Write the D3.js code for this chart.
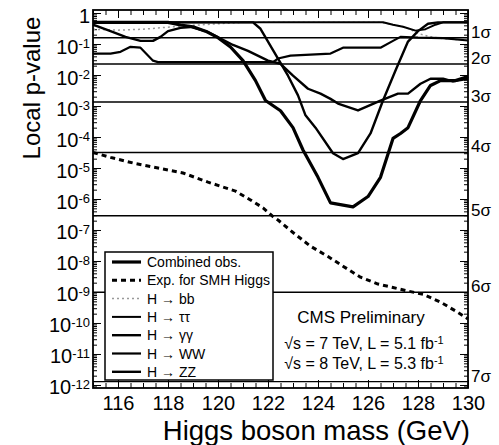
<!DOCTYPE html>
<meta charset="utf-8" />
<html>
<head>
<title>local p-value</title>
<script src="https://cdn.jsdelivr.net/npm/d3@7"></script>
<style>
body { margin: 0; background: #fff; }
text { font-family: "Liberation Sans", Arial, sans-serif; fill: #000; }
.axis path { display: none; }
.axis line { stroke: #000; stroke-width: 1; }
</style>
</head>
<body>
<div id="viz"></div>
<script>

// values: [mass GeV, local p-value]
var combined = [[115,0.5],[116,0.5],[117,0.5],[118,0.5],[118.5,0.41],[119,0.36],[119.5,0.26],[120,0.16],
  [120.5,0.08],[121,0.029],[121.5,6.6e-3],[121.9,1.5e-3],[122.5,7e-4],[123,2e-4],[123.4,3.8e-5],[124,5e-6],
  [124.5,7.5e-7],[125.4,5.6e-7],[126,1.2e-6],[126.5,5e-6],[127,9e-5],[127.3,1.3e-4],[127.6,2e-4],[128.1,1.5e-3],
  [128.5,4.6e-3],[128.9,6.6e-3],[129.5,6.6e-3],[130,8.9e-3]];
var expected = [[115,3.2e-5],[115.7,2.2e-5],[116.6,1.45e-5],[117.6,1e-5],[118.6,6.9e-6],[119.6,3.5e-6],
  [120.7,1.8e-6],[121.3,9.3e-7],[121.8,5.2e-7],[122.2,2.7e-7],[122.4,2.1e-7],[123,8.3e-8],[123.7,3e-8],
  [124.4,1.4e-8],[125,6.8e-9],[125.7,3e-9],[126.4,1.8e-9],[127,1.4e-9],[127.6,1.07e-9],[128.2,8.5e-10],
  [128.9,4.7e-10],[129.6,2.2e-10],[130,1.35e-10]];
var hbb = [[115,0.3],[116,0.28],[117,0.3],[118,0.35],[119,0.4],[120,0.45],[121,0.5],[126.5,0.5],[127,0.42],
  [127.5,0.35],[128,0.22],[128.5,0.17],[129,0.15],[129.5,0.14],[130,0.13]];
var htautau = [[115,0.5],[126.6,0.5],[127,0.42],[127.4,0.36],[127.9,0.27],[128.3,0.3],[128.7,0.42],[129,0.5],[130,0.5]];
var hgg = [[115,0.5],[121.4,0.5],[121.7,0.31],[122,0.12],[122.4,0.034],[122.8,9.5e-3],[123.2,2.2e-3],[123.5,5e-4],
  [123.9,2e-4],[124.6,3e-5],[125,1.95e-5],[125.6,3e-5],[126.1,1.3e-4],[126.6,1.5e-3],[127.1,1.4e-2],[127.6,0.12],
  [128,0.26],[128.4,0.45],[128.8,0.5],[130,0.5]];
var hww = [[115,0.049],[115.7,0.049],[116.1,0.056],[116.5,0.081],[116.9,0.076],[117.4,0.029],[117.6,0.026],
  [119.3,0.026],[122.2,0.026],[122.4,0.034],[122.9,0.042],[124.5,0.049],[125,0.076],[126.5,0.076],[127,0.126],
  [127.3,0.17],[128,0.16],[129,0.155],[130,0.13]];
var hzz = [[115,0.42],[115.7,0.26],[116.3,0.17],[116.9,0.126],[117.4,0.126],[117.7,0.17],[118,0.26],[118.5,0.33],
  [118.9,0.355],[119.6,0.245],[120.1,0.15],[120.6,0.093],[121.2,0.06],[122,0.029],[122.5,0.023],[123,9.5e-3],
  [123.6,3.6e-3],[124.1,2.5e-3],[124.5,1.7e-3],[124.8,1.2e-3],[125.6,7.2e-4],[126.5,1.5e-3],[127.2,2.5e-3],
  [127.6,2.5e-3],[128.1,5.2e-3],[128.5,7.6e-3],[129,7.6e-3],[129.4,6.2e-3],[130,7.6e-3]];

var sigmaP = [0.158655, 0.02275, 1.3499e-3, 3.167e-5, 2.867e-7, 9.866e-10, 1.28e-12];
var sigmaLabels = ["1σ", "2σ", "3σ", "4σ", "5σ", "6σ", "7σ"];
var massTicks = [116, 118, 120, 122, 124, 126, 128, 130];
var decades = d3.range(0, -13, -1);
var legendLabels = ["Combined obs.", "Exp. for SMH Higgs", "H → bb", "H → ττ", "H → γγ", "H → WW", "H → ZZ"];

var width = 499, height = 445;
var svg = d3.select("#viz").append("svg")
    .attr("width", width)
    .attr("height", height);

var x = d3.scaleLinear().domain([115, 130]).range([93, 468]);
var y = d3.scaleLog().domain([8e-13, 1.25]).range([388, 10]);

// minor log ticks
var minors = [];
decades.forEach(function(e) {
  for (var k = 2; k < 10; k++) {
    var v = k * Math.pow(10, e - 1);
    if (v > 8e-13 && v < 1.25) minors.push(v);
  }
});
var majorP = decades.map(function(e) { return Math.pow(10, e); });
var minorM = d3.range(115, 130.01, 0.5).filter(function(m) { return m % 2 != 0; });

// sigma lines
svg.append("g").selectAll("line")
  .data(sigmaP)
  .enter().append("line")
  .attr("x1", x(115)).attr("x2", x(130))
  .attr("y1", function(d) { return y(d); })
  .attr("y2", function(d) { return y(d); })
  .style("stroke", "#000").style("stroke-width", 1.4);

svg.append("g").selectAll("text")
  .data(sigmaP)
  .enter().append("text")
  .attr("x", 471)
  .attr("y", function(d) { return y(d); })
  .style("font-size", "17px")
  .text(function(d, i) { return sigmaLabels[i]; });

// axes, ticks pointing inward
var left = svg.append("g").attr("class", "axis").attr("transform", "translate(" + x(115) + ",0)")
  .call(d3.axisLeft(y).tickValues(majorP).tickSize(-8).tickPadding(3).tickFormat(""));
svg.append("g").attr("class", "axis").attr("transform", "translate(" + x(115) + ",0)")
  .call(d3.axisLeft(y).tickValues(minors).tickSize(-4).tickFormat(""));
svg.append("g").attr("class", "axis").attr("transform", "translate(" + x(130) + ",0)")
  .call(d3.axisRight(y).tickValues(majorP).tickSize(-8).tickFormat(""));
svg.append("g").attr("class", "axis").attr("transform", "translate(" + x(130) + ",0)")
  .call(d3.axisRight(y).tickValues(minors).tickSize(-4).tickFormat(""));

left.selectAll(".tick text").each(function(d) {
  var e = Math.round(Math.log10(d));
  var t = d3.select(this).style("font-size", "20px").attr("dy", "0.45em");
  if (e == 0) { t.text("1"); return; }
  t.append("tspan").text("10");
  t.append("tspan").attr("dy", "-0.45em").style("font-size", "13px").text(String(e));
});

var bottom = svg.append("g").attr("class", "axis").attr("transform", "translate(0," + y(8e-13) + ")")
  .call(d3.axisBottom(x).tickValues(massTicks).tickSize(-8).tickPadding(8).tickFormat(d3.format("d")));
bottom.selectAll(".tick text").style("font-size", "20px");
svg.append("g").attr("class", "axis").attr("transform", "translate(0," + y(8e-13) + ")")
  .call(d3.axisBottom(x).tickValues(minorM).tickSize(-5).tickFormat(""));
svg.append("g").attr("class", "axis").attr("transform", "translate(0," + y(1.25) + ")")
  .call(d3.axisTop(x).tickValues(massTicks).tickSize(-8).tickFormat(""));
svg.append("g").attr("class", "axis").attr("transform", "translate(0," + y(1.25) + ")")
  .call(d3.axisTop(x).tickValues(minorM).tickSize(-5).tickFormat(""));

// curves
var line = d3.line()
  .x(function(d) { return x(d[0]); })
  .y(function(d) { return y(d[1]); });

var series = [
  { data: hbb, w: 1.5, dash: "2,3", color: "#999" },
  { data: htautau, w: 2, dash: null, color: "#000" },
  { data: hww, w: 2.2, dash: null, color: "#000" },
  { data: hzz, w: 2.4, dash: null, color: "#000" },
  { data: hgg, w: 2.4, dash: null, color: "#000" },
  { data: expected, w: 3, dash: "5,4", color: "#000" },
  { data: combined, w: 3.2, dash: null, color: "#000" }
];

svg.append("g").selectAll("path")
  .data(series)
  .enter().append("path")
  .attr("d", function(d) { return line(d.data); })
  .style("fill", "none")
  .style("stroke", function(d) { return d.color; })
  .style("stroke-width", function(d) { return d.w; })
  .style("stroke-dasharray", function(d) { return d.dash; })
  .style("stroke-linejoin", "round");

// frame
svg.append("rect")
  .attr("x", x(115)).attr("y", y(1.25))
  .attr("width", x(130) - x(115)).attr("height", y(8e-13) - y(1.25))
  .style("fill", "none").style("stroke", "#000").style("stroke-width", 1.8);

// legend
var leg = svg.append("g");
leg.append("rect")
  .attr("x", 105).attr("y", 252).attr("width", 168).attr("height", 128)
  .style("fill", "#fff").style("stroke", "#000").style("stroke-width", 1.5);
var legStyle = [series[6], series[5], series[0], series[1], series[4], series[2], series[3]];
legendLabels.forEach(function(lab, i) {
  var yy = 262 + i * 18.3;
  var s = legStyle[i];
  leg.append("line")
    .attr("x1", 112).attr("x2", 141).attr("y1", yy).attr("y2", yy)
    .style("stroke", s.color).style("stroke-width", s.w)
    .style("stroke-dasharray", s.dash);
  leg.append("text")
    .attr("x", 147).attr("y", yy + 5)
    .style("font-size", "14px")
    .text(lab);
});

// annotation
svg.append("text").attr("x", 361).attr("y", 323).attr("text-anchor", "middle")
  .style("font-size", "17px").text("CMS Preliminary");
[["7", "5.1"], ["8", "5.3"]].forEach(function(r, i) {
  var t = svg.append("text").attr("x", 364).attr("y", 349 + i * 20).attr("text-anchor", "middle")
    .style("font-size", "16px");
  t.append("tspan").text("√s = " + r[0] + " TeV, L = " + r[1] + " fb");
  t.append("tspan").attr("dy", "-0.5em").style("font-size", "11px").text("-1");
});

// axis titles
svg.append("text")
  .attr("transform", "translate(40,88) rotate(-90)")
  .attr("text-anchor", "middle")
  .style("font-size", "24px")
  .text("Local p-value");
svg.append("text")
  .attr("x", 470).attr("y", 440)
  .attr("text-anchor", "end")
  .style("font-size", "27.5px")
  .text("Higgs boson mass (GeV)");

</script>
</body>
</html>
